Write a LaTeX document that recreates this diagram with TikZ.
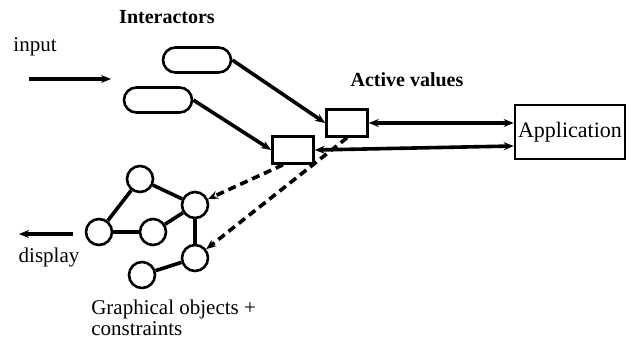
\documentclass[tikz,border=0pt]{standalone}
\usepackage{fontspec}
\setmainfont{Liberation Serif}
\usetikzlibrary{arrows.meta}
\begin{document}
\begin{tikzpicture}[x=0.5pt, y=-0.5pt, line width=1.3pt,
		every node/.style={font=\fontsize{10.5}{12}\selectfont},
		pill/.style={draw, rounded corners=6.25pt, minimum width=34pt, minimum height=12.5pt},
		valuebox/.style={draw, minimum width=20.5pt, minimum height=13.5pt},
		obj/.style={draw, circle, minimum size=13pt, inner sep=0pt},
		link/.style={line width=1.8pt, -{Stealth[length=5pt,width=4pt]}},
		update/.style={line width=1.8pt, dash pattern=on 4pt off 2.5pt, -{Stealth[length=5pt,width=4pt]}}]
		\useasboundingbox (0,0) rectangle (631,338);

		%––––– interactors –––––
		\node (ilabel) at (167,17) {\fontsize{10}{12}\selectfont\bfseries Interactors};
		\node (inlabel) at (35,47) {input};
		\coordinate (in0) at (29,79);
		\coordinate (in1) at (111,79);
		\draw[link] (in0) -- (in1);

		\node[pill] (i1) at (197,60) {};
		\node[pill] (i2) at (158,100) {};

		%––––– active values –––––
		\node (vlabel) at (407,80) {\fontsize{10}{12}\selectfont\bfseries Active values};
		\node[valuebox] (v1) at (347,123) {};
		\node[valuebox] (v2) at (293,150) {};
		\draw[link] (i1.east) -- (v1.west);
		\draw[link] (i2.east) -- (v2.west);

		%––––– application –––––
		\node[draw, minimum width=55pt, minimum height=27pt, inner sep=1pt] (app) at (570,132) {\fontsize{11}{13}\selectfont Application};
		\draw[link, {Stealth[length=5pt,width=4pt]}-{Stealth[length=5pt,width=4pt]}] (v1.east) -- (v1.east -| app.west);
		\draw[link, {Stealth[length=5pt,width=4pt]}-{Stealth[length=5pt,width=4pt]}] (v2.east) -- ([yshift=-7pt]app.west);

		%––––– graphical objects –––––
		\node[obj] (g1) at (140,179) {};
		\node[obj] (g2) at (195,205) {};
		\node[obj] (g3) at (99,232) {};
		\node[obj] (g4) at (153,232) {};
		\node[obj] (g5) at (195,258) {};
		\node[obj] (g6) at (142,275) {};
		\draw[line width=1.8pt] (g1) -- (g2);
		\draw[line width=1.8pt] (g1) -- (g3);
		\draw[line width=1.8pt] (g3) -- (g4);
		\draw[line width=1.8pt] (g4) -- (g2);
		\draw[line width=1.8pt] (g2) -- (g5);
		\draw[line width=1.8pt] (g5) -- (g6);

		\draw[update] ([xshift=-5pt]v2.south) -- (g2);
		\draw[update] (v1.south) -- (g5);

		\coordinate (out0) at (73,234);
		\coordinate (out1) at (19,234);
		\draw[link] (out0) -- (out1);
		\node (outlabel) at (49,257) {display};

		\node[anchor=base west, inner sep=0pt] (glabel) at (90,314) {Graphical objects +};
		\node[anchor=base west, inner sep=0pt] (clabel) at (90,335) {constraints};
	\end{tikzpicture}
\end{document}
